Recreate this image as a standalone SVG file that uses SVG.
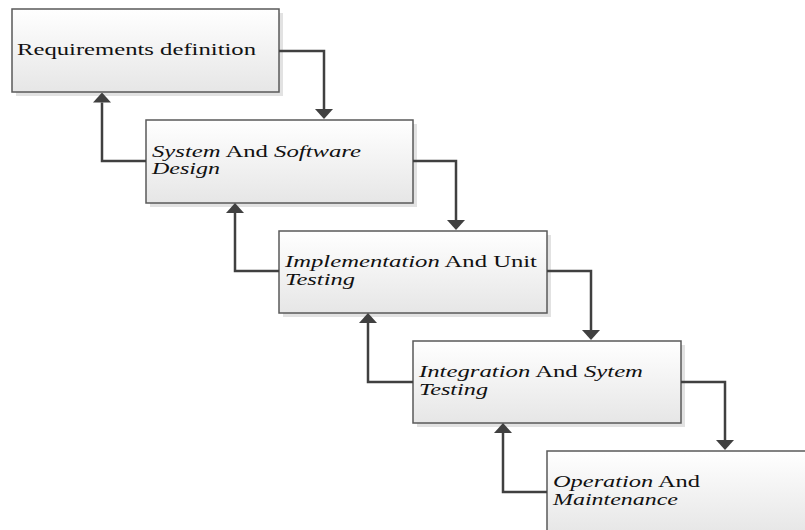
<svg xmlns="http://www.w3.org/2000/svg" width="805" height="530" viewBox="0 0 805 530">
  <defs>
    <linearGradient id="boxFill" x1="0" y1="0" x2="0" y2="1">
      <stop offset="0" stop-color="#ffffff"/>
      <stop offset="1" stop-color="#e6e6e6"/>
    </linearGradient>
    <marker id="arrow" viewBox="0 0 10 18" refX="0" refY="9" markerWidth="10" markerHeight="18" markerUnits="userSpaceOnUse" orient="auto">
      <path d="M0,0 L10,9 L0,18 Z" fill="#404040"/>
    </marker>
    <style>
      .shadow { fill: #e2e2e2; }
      .box { fill: url(#boxFill); stroke: #5a5a5a; stroke-width: 1.5; }
      .label { font-family: "Liberation Serif", "Times New Roman", serif; font-size: 16px; fill: #111111; }
      .it { font-style: italic; }
      .link { fill: none; stroke: #404040; stroke-width: 2.5; marker-end: url(#arrow); }
    </style>
  </defs>

  <rect width="805" height="530" fill="#ffffff"/>

  <!-- phase boxes -->
  <g id="requirements">
    <rect class="shadow" x="16" y="13" width="267" height="83"/>
    <rect class="box" x="12" y="9" width="267" height="83"/>
    <text class="label" x="17" y="55" textLength="239" lengthAdjust="spacingAndGlyphs">Requirements definition</text>
  </g>

  <g id="design">
    <rect class="shadow" x="150" y="124" width="267" height="83"/>
    <rect class="box" x="146" y="120" width="267" height="83"/>
    <text class="label" x="152" y="157" textLength="209" lengthAdjust="spacingAndGlyphs"><tspan class="it">System</tspan> And <tspan class="it">Software</tspan></text>
    <text class="label it" x="152" y="174" textLength="68" lengthAdjust="spacingAndGlyphs">Design</text>
  </g>

  <g id="implementation">
    <rect class="shadow" x="283" y="235" width="268" height="82"/>
    <rect class="box" x="279" y="231" width="268" height="82"/>
    <text class="label" x="285" y="267" textLength="252" lengthAdjust="spacingAndGlyphs"><tspan class="it">Implementation</tspan> And Unit</text>
    <text class="label it" x="285" y="285" textLength="70" lengthAdjust="spacingAndGlyphs">Testing</text>
  </g>

  <g id="integration">
    <rect class="shadow" x="417" y="345" width="268" height="82"/>
    <rect class="box" x="413" y="341" width="268" height="82"/>
    <text class="label" x="419" y="377" textLength="224" lengthAdjust="spacingAndGlyphs"><tspan class="it">Integration</tspan> And <tspan class="it">Sytem</tspan></text>
    <text class="label it" x="419" y="395" textLength="69" lengthAdjust="spacingAndGlyphs">Testing</text>
  </g>

  <g id="operation">
    <rect class="shadow" x="551" y="455" width="268" height="83"/>
    <rect class="box" x="547" y="451" width="268" height="83"/>
    <text class="label" x="553" y="487" textLength="147" lengthAdjust="spacingAndGlyphs"><tspan class="it">Operation</tspan> And</text>
    <text class="label it" x="553" y="505" textLength="125" lengthAdjust="spacingAndGlyphs">Maintenance</text>
  </g>

  <!-- forward and feedback connectors -->
  <g id="connectors">
    <path class="link" d="M279,51 H324 V109"/>
    <path class="link" d="M146,161 H102 V102.5"/>
    <path class="link" d="M413,161 H456 V220"/>
    <path class="link" d="M279,271 H235 V213"/>
    <path class="link" d="M547,271 H591 V330"/>
    <path class="link" d="M413,382 H368 V323"/>
    <path class="link" d="M681,382 H725 V440"/>
    <path class="link" d="M547,492 H503 V433"/>
  </g>
</svg>
